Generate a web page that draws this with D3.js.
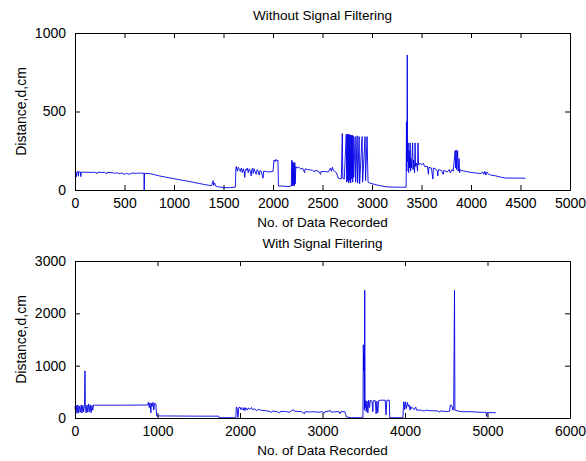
<!DOCTYPE html>
<html>
<head>
<meta charset="utf-8">
<script src="https://cdn.jsdelivr.net/npm/d3@7"></script>
<style>
  body { margin: 0; background: #fff; }
  text { font-family: "Liberation Sans", Arial, sans-serif; fill: #000; }
</style>
</head>
<body>
<svg id="drawing_region"></svg>
<script>
// readings without filtering: [data index, distance cm]
const rawSignal = [
  [0,112],[5,118],[15,85],[18,115],[30,118],[35,88],[38,116],[55,114],[60,85],[62,114],
  [100,113],[160,112],[200,113],[220,104],[225,113],[300,112],[320,102],[325,112],[380,110],
  [400,106],[420,110],[450,104],[470,108],[500,100],[520,106],[550,100],[580,108],[620,106],
  [660,108],[697,106],[698,0],[700,0],[702,106],[760,104],[800,98],[850,90],[900,84],[950,78],
  [1000,72],[1050,66],[1100,60],[1150,55],[1200,48],[1250,42],[1300,36],[1350,30],[1380,28],
  [1395,60],[1400,30],[1410,45],[1420,25],[1450,20],[1500,15],[1560,15],[1620,18],[1625,140],
  [1630,150],[1640,120],[1650,145],[1660,130],[1670,118],[1680,140],[1690,110],[1700,135],
  [1710,115],[1715,80],[1720,130],[1730,125],[1740,140],[1750,110],[1760,135],[1770,120],
  [1780,90],[1785,130],[1795,140],[1800,105],[1810,135],[1820,115],[1830,100],[1840,130],
  [1850,120],[1860,95],[1870,125],[1880,120],[1900,75],[1905,120],[1930,118],[1950,115],
  [2000,118],[2010,190],[2020,180],[2030,195],[2040,185],[2050,190],[2055,25],[2100,25],
  [2150,22],[2185,25],[2190,190],[2195,25],[2200,180],[2205,30],[2210,170],[2215,25],[2220,175],
  [2225,40],[2230,150],[2240,140],[2260,145],[2280,135],[2300,138],[2320,110],[2325,135],
  [2350,130],[2380,128],[2400,125],[2420,115],[2425,125],[2460,120],[2480,100],[2485,118],
  [2520,118],[2560,115],[2580,140],[2590,120],[2600,145],[2610,125],[2640,110],[2660,75],
  [2690,70],[2700,360],[2705,75],[2720,70],[2740,355],[2745,50],[2750,355],[2755,60],[2760,355],
  [2765,45],[2770,355],[2775,60],[2780,350],[2785,45],[2790,350],[2795,70],[2800,350],[2805,50],
  [2810,345],[2815,80],[2830,340],[2835,50],[2850,345],[2855,45],[2870,340],[2875,40],[2900,340],
  [2905,50],[2930,340],[2935,60],[2950,340],[2960,50],[2975,45],[3000,40],[3050,32],[3100,25],
  [3150,20],[3250,18],[3345,18],[3348,435],[3352,120],[3356,860],[3360,180],[3365,300],[3370,110],
  [3375,250],[3380,140],[3385,300],[3390,120],[3395,200],[3400,140],[3410,300],[3415,130],
  [3420,190],[3430,110],[3435,300],[3440,150],[3450,170],[3460,120],[3465,300],[3470,160],
  [3490,170],[3500,160],[3520,170],[3530,150],[3560,150],[3570,100],[3575,145],[3600,140],
  [3615,70],[3620,140],[3640,135],[3660,120],[3665,90],[3670,130],[3700,125],[3720,100],
  [3725,125],[3760,115],[3780,130],[3790,110],[3810,130],[3820,120],[3840,250],[3845,140],
  [3850,255],[3855,130],[3865,250],[3870,120],[3880,200],[3885,110],[3890,130],[3900,125],
  [3950,118],[4000,112],[4050,108],[4100,105],[4120,115],[4130,100],[4140,118],[4150,95],
  [4160,115],[4170,105],[4180,100],[4200,95],[4250,90],[4300,82],[4350,76],[4450,76],[4550,75]
];

// readings with filtering
const filteredSignal = [
  [0,230],[8,100],[15,240],[25,90],[35,250],[45,100],[55,230],[65,110],[75,250],[85,95],
  [95,240],[105,120],[115,260],[121,900],[125,240],[135,100],[145,250],[155,110],[165,270],
  [175,120],[185,250],[195,100],[205,240],[215,150],[225,250],[240,245],[400,245],[600,245],
  [880,248],[890,300],[900,200],[910,290],[920,100],[925,280],[935,220],[945,300],[955,150],
  [965,280],[980,270],[990,40],[1200,38],[1500,35],[1740,35],[1745,5],[1950,5],[1955,210],
  [1965,190],[1975,10],[1985,200],[2000,205],[2010,160],[2020,200],[2040,150],[2050,200],
  [2060,140],[2070,195],[2090,150],[2100,190],[2120,170],[2140,200],[2150,160],[2180,175],
  [2200,140],[2220,165],[2250,150],[2300,140],[2350,130],[2380,110],[2400,135],[2450,120],
  [2480,95],[2490,125],[2550,125],[2600,110],[2620,135],[2650,160],[2660,130],[2700,125],
  [2750,120],[2780,80],[2790,120],[2850,115],[2900,120],[2950,110],[3000,120],[3020,90],
  [3030,120],[3100,140],[3110,110],[3150,120],[3200,120],[3210,80],[3220,120],[3270,120],
  [3290,20],[3350,5],[3490,5],[3495,1400],[3500,900],[3505,1200],[3508,150],[3512,2440],
  [3516,340],[3520,200],[3525,330],[3530,120],[3540,320],[3550,100],[3560,340],[3570,200],
  [3580,340],[3600,320],[3610,120],[3615,330],[3640,330],[3650,80],[3660,320],[3670,100],
  [3680,330],[3700,340],[3760,340],[3770,60],[3780,340],[3810,340],[3815,5],[3900,5],[3975,5],
  [3980,200],[3985,310],[3995,160],[4005,310],[4015,180],[4030,300],[4040,220],[4050,250],
  [4060,150],[4070,220],[4080,180],[4090,200],[4110,160],[4130,210],[4140,150],[4200,150],
  [4230,130],[4250,150],[4300,140],[4400,135],[4420,110],[4430,135],[4500,125],[4540,130],
  [4550,250],[4570,230],[4580,150],[4590,160],[4600,2440],[4605,150],[4650,130],[4700,120],
  [4800,120],[4900,110],[4980,108],[4990,30],[4995,105],[5100,100]
];

const rawXTicks = [0,500,1000,1500,2000,2500,3000,3500,4000,4500,5000];
const rawYTicks = [0,500,1000];
const filtXTicks = [0,1000,2000,3000,4000,5000,6000];
const filtYTicks = [0,1000,2000,3000];

const svg = d3.select('#drawing_region')
    .attr('width', 586)
    .attr('height', 461);

function drawPanel(cfg) {
    const w = 495, h = 157;
    const g = svg.append('g')
        .attr('transform', `translate(${cfg.left}, ${cfg.top})`);

    const xscale = d3.scaleLinear().domain(cfg.xdomain).range([0, w]);
    const yscale = d3.scaleLinear().domain(cfg.ydomain).range([h, 0]);
    const fmt = d3.format('d');

    // line first so the box sits on top
    g.append('path')
        .datum(cfg.data)
        .attr('fill', 'none')
        .attr('stroke', '#0000e6')
        .attr('stroke-width', 0.9)
        .attr('d', d3.line().x(d => xscale(d[0])).y(d => yscale(d[1])));

    // matlab style: ticks pointing inwards on all four sides
    const bottom = g.append('g').attr('transform', `translate(0, ${h})`)
        .call(d3.axisBottom(xscale).tickValues(cfg.xticks).tickFormat(fmt).tickSize(-5).tickPadding(8).tickSizeOuter(0));
    const top = g.append('g')
        .call(d3.axisTop(xscale).tickValues(cfg.xticks).tickSize(-5).tickFormat('').tickSizeOuter(0));
    const left = g.append('g')
        .call(d3.axisLeft(yscale).tickValues(cfg.yticks).tickFormat(fmt).tickSize(-5).tickPadding(9).tickSizeOuter(0));
    const right = g.append('g').attr('transform', `translate(${w}, 0)`)
        .call(d3.axisRight(yscale).tickValues(cfg.yticks).tickSize(-5).tickFormat('').tickSizeOuter(0));

    [bottom, top, left, right].forEach(a => {
        a.select('.domain').attr('stroke', '#000');
        a.selectAll('.tick line').attr('stroke', '#000');
        a.selectAll('text')
            .attr('font-family', '"Liberation Sans", Arial, sans-serif')
            .attr('font-size', '14px')
            .attr('fill', '#000');
    });
    bottom.selectAll('.tick text').attr('dy', '0.71em');

    svg.append('text')
        .attr('x', cfg.left + w / 2)
        .attr('y', cfg.top - 13)
        .attr('text-anchor', 'middle')
        .attr('font-size', '13.5px')
        .text(cfg.title);

    svg.append('text')
        .attr('x', cfg.left + w / 2)
        .attr('y', cfg.top + h + 37)
        .attr('text-anchor', 'middle')
        .attr('font-size', '13.5px')
        .text('No. of Data Recorded');

    svg.append('text')
        .attr('transform', `translate(26, ${cfg.top + h / 2}) rotate(-90)`)
        .attr('text-anchor', 'middle')
        .attr('font-size', '14px')
        .text('Distance,d,cm');
}

drawPanel({
    left: 75, top: 33,
    xdomain: [0, 5000], ydomain: [0, 1000],
    xticks: rawXTicks, yticks: rawYTicks,
    data: rawSignal,
    title: 'Without Signal Filtering'
});

drawPanel({
    left: 75, top: 261,
    xdomain: [0, 6000], ydomain: [0, 3000],
    xticks: filtXTicks, yticks: filtYTicks,
    data: filteredSignal,
    title: 'With Signal Filtering'
});
</script>
</body>
</html>
